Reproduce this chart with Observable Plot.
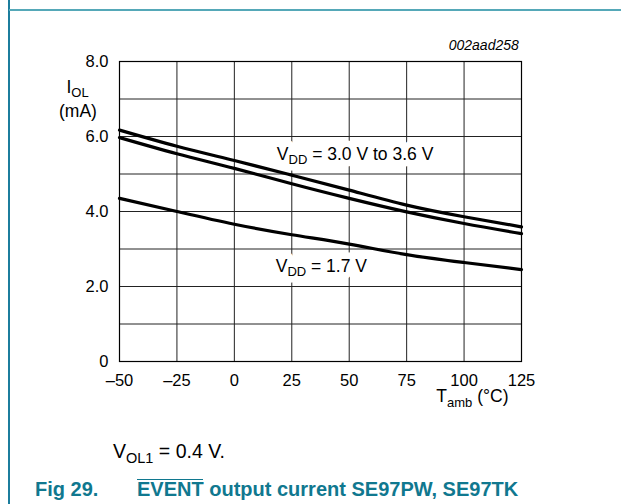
<!DOCTYPE html>
<html>
<head>
<meta charset="utf-8">
<script src="https://cdn.jsdelivr.net/npm/d3@7"></script>
<script src="https://cdn.jsdelivr.net/npm/@observablehq/plot@0.6"></script>
<style>
  html, body { margin: 0; padding: 0; background: #fff; }
  #page { position: relative; width: 621px; height: 504px; overflow: hidden;
          font-family: "Liberation Sans", Arial, sans-serif; background: #fff; }
  #chart { position: absolute; left: 0; top: 0; }
  .rule-v { position: absolute; left: 8px; top: 0; width: 1.5px; height: 504px; background: #1c7d9d; z-index: 2; }
  .rule-h { position: absolute; left: 9px; top: 9px; width: 612px; height: 2px; background: #55a8b8; z-index: 2; }
  .note { position: absolute; left: 113px; top: 442px; font-size: 19.5px; line-height: 19.5px; color: #000; white-space: nowrap; }
  .note sub { font-size: 14.5px; vertical-align: -5px; line-height: 0; }
  .title { position: absolute; top: 479px; font-size: 20px; line-height: 20px; font-weight: bold;
           color: #10788f; white-space: pre; }
  .ovl { position: relative; }
  .ovl::before { content: ""; position: absolute; left: 0; right: 1px; top: 1px; border-top: 1.6px solid #10788f; }
</style>
</head>
<body>
<div id="page">
  <div id="chart"></div>
  <div class="rule-v"></div>
  <div class="rule-h"></div>
  <div class="note">V<sub>OL1</sub> = 0.4 V.</div>
  <div class="title" style="left:35px">Fig 29.</div>
  <div class="title" style="left:137px"><span class="ovl">EVENT</span> output current SE97PW, SE97TK</div>
</div>
<script>
// Ambient temperature (°C) and output current I_OL (mA) per supply voltage
const temps = [-50, -25, 0, 25, 50, 75, 100, 125];
const iolVdd36 = [6.17, 5.74, 5.36, 4.97, 4.57, 4.17, 3.86, 3.59];
const iolVdd30 = [5.97, 5.54, 5.15, 4.74, 4.35, 3.99, 3.68, 3.41];
const iolVdd17 = [4.35, 4.00, 3.66, 3.38, 3.13, 2.85, 2.64, 2.45];
const seriesNames = ["3.6 V", "3.0 V", "1.7 V"];

// Axis ticks and grid
const xTicks = [-50, -25, 0, 25, 50, 75, 100, 125];
const yTicks = [0, 2, 4, 6, 8];
const yGrid = [0, 1, 2, 3, 4, 5, 6, 7, 8];

// Curve annotations (anchored in data coordinates)
const labelTexts = ["V_{DD} = 3.0 V to 3.6 V", "V_{DD} = 1.7 V"];
const labelT = [18.5, 18.0];
const labelI = [5.53, 2.54];

const seriesValues = [iolVdd36, iolVdd30, iolVdd17];
const rows = seriesNames.flatMap((name, s) =>
  temps.map((t, i) => ({series: name, temp: t, iol: seriesValues[s][i]})));
const labels = labelTexts.map((text, i) => ({text, temp: labelT[i], iol: labelI[i]}));

const dash = d => d < 0 ? "\u2013" + Math.abs(d) : String(d);
const labelOpts = {x: "temp", y: "iol", text: "text", textAnchor: "start", lineAnchor: "middle", fontSize: 17.5};

const chart = Plot.plot({
  width: 621,
  height: 420,
  marginLeft: 119,
  marginRight: 100,
  marginTop: 61,
  marginBottom: 59,
  style: {fontFamily: "'Liberation Sans', Arial, sans-serif", fontSize: "16.5px", color: "#000", background: "transparent"},
  x: {domain: [-50, 125], ticks: xTicks, tickFormat: dash, tickSize: 0, tickPadding: 13, label: null},
  y: {domain: [0, 8], ticks: yTicks, tickFormat: d => d === 0 ? "0" : d.toFixed(1), tickSize: 0, tickPadding: 11, label: null},
  marks: [
    Plot.ruleX(xTicks, {stroke: "#222", strokeWidth: 1}),
    Plot.ruleY(yGrid, {stroke: "#222", strokeWidth: 1}),
    // white halo behind the annotations, then the annotation text itself
    Plot.text(labels, {...labelOpts, fill: "white", stroke: "white", strokeWidth: 13}),
    Plot.text(labels, {...labelOpts, fill: "#000"}),
    Plot.line(rows, {x: "temp", y: "iol", z: "series", curve: "natural", stroke: "#000", strokeWidth: 3.2}),
    Plot.frame({stroke: "#000", strokeWidth: 1.2}),
    Plot.text(["I_{OL}"], {frameAnchor: "top-left", textAnchor: "middle", lineAnchor: "bottom", dx: -42, dy: 31, fontSize: 17.5}),
    Plot.text(["(mA)"], {frameAnchor: "top-left", textAnchor: "middle", lineAnchor: "bottom", dx: -41.5, dy: 55.5, fontSize: 17.5}),
    Plot.text(["T_{amb} (°C)"], {frameAnchor: "bottom-right", textAnchor: "end", lineAnchor: "bottom", dx: -13, dy: 40.7, fontSize: 17.5}),
    Plot.text(["002aad258"], {frameAnchor: "top-right", textAnchor: "end", lineAnchor: "bottom", dx: -2.7, dy: -12,
      fontSize: 14, fontStyle: "italic"})
  ]
});

// Turn "_{...}" markers into lowered, smaller tspans
d3.select(chart).selectAll("text").each(function () {
  const s = this.textContent;
  if (!s.includes("_{")) return;
  const parts = s.split(/_\{([^}]*)\}/);
  const el = d3.select(this);
  el.text(null);
  let lowered = false;
  parts.forEach((p, k) => {
    if (!p) return;
    const isSub = k % 2 === 1;
    const t = el.append("tspan").text(p);
    if (isSub) { t.attr("font-size", 13).attr("dy", lowered ? null : 4.5); lowered = true; }
    else if (lowered) { t.attr("dy", -4.5); lowered = false; }
  });
});

document.getElementById("chart").appendChild(chart);
</script>
</body>
</html>
